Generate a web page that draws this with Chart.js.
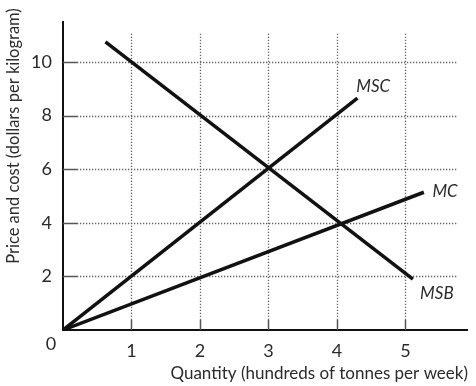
<!DOCTYPE html>
<html>
<head>
<meta charset="utf-8">
<script src="https://cdn.jsdelivr.net/npm/chart.js@4/dist/chart.umd.min.js"></script>
<style>
  html, body { margin: 0; padding: 0; background: #fff; }
  #wrap { width: 476px; height: 386px; }
</style>
</head>
<body>
<div id="wrap"><canvas id="chart"></canvas></div>
<script>
// curve end points
const msbX = [0.62, 5.11];
const msbY = [10.75, 1.9];
const mscX = [0, 4.3];
const mscY = [0, 8.65];
const mcX = [0, 5.27];
const mcY = [0, 5.14];

const xTicks = [1, 2, 3, 4, 5];
const yTicks = [2, 4, 6, 8, 10];

const curveNames = ['MSB', 'MSC', 'MC'];
// where each curve name sits, in data units
const nameX = [5.46, 4.53, 5.58];
const nameY = [1.38, 9.07, 5.17];

const FONT = 'Lato, "Open Sans", sans-serif';
const TEXT = '#2b2b2b';

function pts(xs, ys) {
    return xs.map((x, i) => ({ x: x, y: ys[i] }));
}

function curve(label, xs, ys) {
    return {
        label: label,
        data: pts(xs, ys),
        showLine: true,
        borderColor: '#111',
        borderWidth: 3.5,
        borderCapStyle: 'butt',
        pointRadius: 0,
        fill: false
    };
}

const gridPlugin = {
    id: 'dotted_grid',
    beforeDatasetsDraw: (chart) => {
        const ctx = chart.ctx;
        const xs = chart.scales.x, ys = chart.scales.y;
        const x0 = xs.getPixelForValue(0), y0 = ys.getPixelForValue(0);
        ctx.save();
        // dotted grid
        ctx.strokeStyle = '#666';
        ctx.lineWidth = 1.3;
        ctx.setLineDash([1.3, 1.7]);
        yTicks.forEach(v => {
            const y = Math.round(ys.getPixelForValue(v)) + 0.5;
            ctx.beginPath();
            ctx.moveTo(x0 + 14, y);
            ctx.lineTo(xs.getPixelForValue(5.75), y);
            ctx.stroke();
        });
        xTicks.forEach(v => {
            const x = Math.round(xs.getPixelForValue(v)) + 0.5;
            ctx.beginPath();
            ctx.moveTo(x, y0 - 10);
            ctx.lineTo(x, ys.getPixelForValue(11.05));
            ctx.stroke();
        });
        // short solid ticks inside the axes
        ctx.setLineDash([]);
        ctx.strokeStyle = '#555';
        ctx.lineWidth = 1.5;
        yTicks.forEach(v => {
            const y = Math.round(ys.getPixelForValue(v)) + 0.5;
            ctx.beginPath();
            ctx.moveTo(x0, y);
            ctx.lineTo(x0 + 14, y);
            ctx.stroke();
        });
        xTicks.forEach(v => {
            const x = Math.round(xs.getPixelForValue(v)) + 0.5;
            ctx.beginPath();
            ctx.moveTo(x, y0);
            ctx.lineTo(x, y0 - 10);
            ctx.stroke();
        });
        ctx.restore();
    },
    afterDraw: (chart) => {
        const ctx = chart.ctx;
        const xs = chart.scales.x, ys = chart.scales.y;
        ctx.save();
        ctx.fillStyle = TEXT;
        // curve names
        ctx.font = 'italic 17px ' + FONT;
        ctx.textAlign = 'center';
        ctx.textBaseline = 'middle';
        curveNames.forEach((n, i) => {
            ctx.fillText(n, xs.getPixelForValue(nameX[i]), ys.getPixelForValue(nameY[i]));
        });
        // origin label
        ctx.font = '18px ' + FONT;
        ctx.fillText('0', xs.getPixelForValue(0) - 12, ys.getPixelForValue(0) + 14);
        // axis titles
        ctx.font = '17px ' + FONT;
        ctx.textAlign = 'right';
        ctx.textBaseline = 'alphabetic';
        ctx.fillText('Quantity (hundreds of tonnes per week)', chart.chartArea.right + 1, 379);
        ctx.font = '16.5px ' + FONT;
        ctx.translate(19, 136);
        ctx.rotate(-Math.PI / 2);
        ctx.textAlign = 'center';
        ctx.fillText('Price and cost (dollars per kilogram)', 0, 0);
        ctx.restore();
    }
};

const data = {
    datasets: [
        curve('MSB', msbX, msbY),
        curve('MSC', mscX, mscY),
        curve('MC', mcX, mcY)
    ]
};

const options = {
    responsive: true,
    maintainAspectRatio: false,
    animation: false,
    layout: { padding: { top: 21, right: 9, left: 0, bottom: 0 } },
    plugins: {
        legend: { display: false },
        tooltip: { enabled: false }
    },
    scales: {
        x: {
            type: 'linear',
            min: 0,
            max: 5.9,
            afterBuildTicks: (s) => { s.ticks = xTicks.map(v => ({ value: v })); },
            afterFit: (s) => { s.height = 56; },
            grid: { color: 'transparent', drawTicks: false },
            border: { display: true, color: '#111', width: 2 },
            ticks: { color: TEXT, font: { family: FONT, size: 18 }, padding: 10, maxRotation: 0 }
        },
        y: {
            type: 'linear',
            min: 0,
            max: 11.5,
            afterBuildTicks: (s) => { s.ticks = yTicks.map(v => ({ value: v })); },
            afterFit: (s) => { s.width = 63; },
            grid: { color: 'transparent', drawTicks: false },
            border: { display: true, color: '#111', width: 2 },
            ticks: { color: TEXT, font: { family: FONT, size: 18 }, padding: 11 }
        }
    }
};

new Chart(document.getElementById('chart'), {
    type: 'scatter',
    data: data,
    options: options,
    plugins: [gridPlugin]
});
</script>
</body>
</html>
